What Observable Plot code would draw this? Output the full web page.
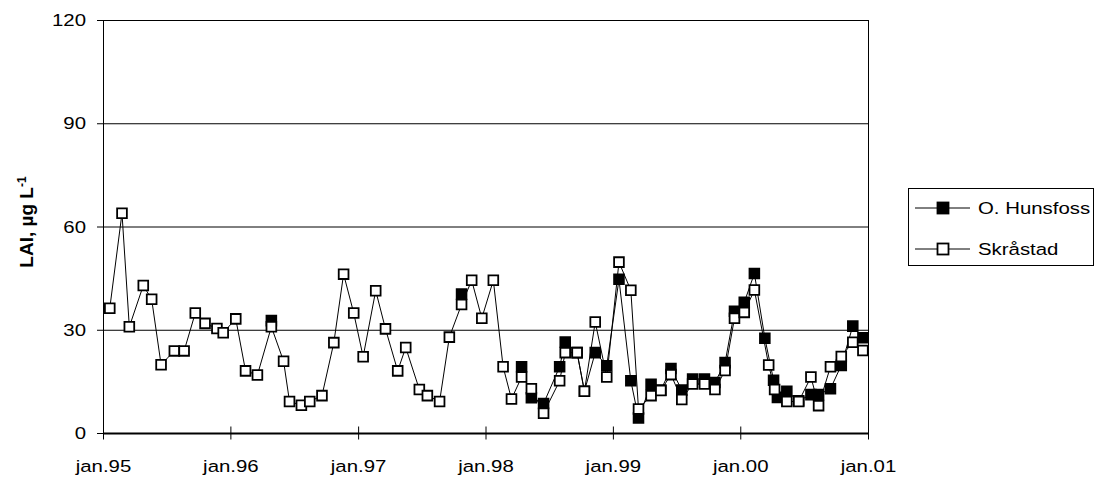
<!DOCTYPE html>
<html>
<head>
<meta charset="utf-8">
<script src="https://cdn.jsdelivr.net/npm/d3@7"></script>
<script src="https://cdn.jsdelivr.net/npm/@observablehq/plot@0.6"></script>
<style>
  html, body { margin: 0; padding: 0; background: #fff; }
  #chart svg { display: block; }
</style>
</head>
<body>
<div id="chart"></div>
<script>
// ---- data ----
const skrastadDates = [
  "1995-01-19","1995-02-23","1995-03-16","1995-04-25","1995-05-19","1995-06-15","1995-07-23","1995-08-20",
  "1995-09-21","1995-10-19","1995-11-22","1995-12-10","1996-01-15","1996-02-12","1996-03-17","1996-04-26",
  "1996-05-31","1996-06-17","1996-07-21","1996-08-14","1996-09-18","1996-10-22","1996-11-19","1996-12-18",
  "1997-01-14","1997-02-19","1997-03-19","1997-04-23","1997-05-16","1997-06-24","1997-07-17","1997-08-21",
  "1997-09-18","1997-10-23","1997-11-21","1997-12-20","1998-01-22","1998-02-19","1998-03-15","1998-04-13",
  "1998-05-11","1998-06-15","1998-07-31","1998-08-16","1998-09-19","1998-10-10","1998-11-10","1998-12-13",
  "1999-01-17","1999-02-20","1999-03-14","1999-04-19","1999-05-17","1999-06-15","1999-07-16","1999-08-16",
  "1999-09-19","1999-10-19","1999-11-17","1999-12-14","2000-01-11","2000-02-09","2000-03-21","2000-04-07",
  "2000-05-12","2000-06-15","2000-07-20","2000-08-11","2000-09-14","2000-10-15","2000-11-17","2000-12-16"
];
const skrastadValues = [
  36.4, 64, 31, 43, 39, 20, 24, 24,
  35, 32, 30.5, 29.3, 33.3, 18.2, 17, 31,
  21, 9.3, 8.2, 9.3, 11, 26.4, 46.3, 35,
  22.3, 41.5, 30.4, 18.2, 25, 12.8, 11, 9.3,
  28, 37.5, 44.5, 33.5, 44.5, 19.4, 10, 16.4,
  13, 5.9, 15.3, 23.5, 23.5, 12.3, 32.4, 16.4,
  49.8, 41.6, 7.1, 11, 12.5, 17.1, 9.9, 14.4,
  14.4, 12.8, 18.3, 33.5, 35.2, 41.7, 19.9, 12.8,
  9.3, 9.3, 16.4, 8.1, 19.4, 22.4, 26.5, 24.1
];
// null = no sample (breaks the line)
const hunsfossDates = [
  "1996-04-26","1996-05-31","1997-10-23","1997-11-21",
  "1998-04-13","1998-05-11","1998-06-15","1998-07-31","1998-08-16","1998-09-19","1998-10-10","1998-11-10",
  "1998-12-13","1999-01-17","1999-02-20","1999-03-14","1999-04-19","1999-05-17","1999-06-15","1999-07-16",
  "1999-08-16","1999-09-19","1999-10-19","1999-11-17","1999-12-14","2000-01-11","2000-02-09","2000-03-10",
  "2000-04-04","2000-04-15","2000-05-12","2000-06-15","2000-07-20","2000-08-11","2000-09-14","2000-10-15",
  "2000-11-17","2000-12-16"
];
const hunsfossValues = [
  32.8, null, 40.5, null,
  19.4, 10.4, 8.7, 19.4, 26.6, 23.5, 12.3, 23.5,
  19.7, 44.8, 15.3, 4.5, 14.3, 12.6, 18.9, 12.6,
  15.8, 15.8, 14.8, 20.6, 35.5, 38.1, 46.5, 27.7,
  15.5, 10.5, 12.3, 9.5, 11.3, 11.3, 13, 19.8,
  31.2, 27.8
];
const seriesNames = ["O. Hunsfoss", "Skråstad"];
const yTicks = [0, 30, 60, 90, 120];
const yTickLabels = ["0", "30", "60", "90", "120"];
const yGrid = [30, 60, 90, 120];
const xTickYears = [1995, 1996, 1997, 1998, 1999, 2000, 2001];
const xTickLabels = ["jan.95", "jan.96", "jan.97", "jan.98", "jan.99", "jan.00", "jan.01"];
const yTitle = "LAI, µg L";
const yTitleSup = "-1";

// ---- build tables ----
const parse = d3.utcParse("%Y-%m-%d");
const skra = skrastadDates.map((d, i) => ({date: parse(d), value: skrastadValues[i]}));
const huns = hunsfossDates.map((d, i) => ({date: parse(d), value: hunsfossValues[i]}));
const xTicks = xTickYears.map(y => new Date(Date.UTC(y, 0, 1)));
const labelOf = d => xTickLabels[xTickYears.indexOf(d.getUTCFullYear())];

const FONT = "'Liberation Sans', Arial, sans-serif";
const W = 1102, H = 478;

const plot = Plot.plot({
  width: W,
  height: H,
  marginLeft: 103,
  marginRight: 234,
  marginTop: 20,
  marginBottom: 45,
  style: {fontFamily: FONT, fontSize: "17px", color: "black", background: "white"},
  x: {type: "utc", domain: [xTicks[0], xTicks[xTicks.length - 1]]},
  y: {domain: [0, 120]},
  marks: [
    Plot.ruleY(yGrid, {stroke: "black", strokeWidth: 1}),
    Plot.frame({stroke: "black", strokeWidth: 1}),
    Plot.ruleY([0], {stroke: "black", strokeWidth: 2}),
    Plot.axisY({ticks: yTicks, tickSize: 6, tickFormat: () => "", label: null, stroke: "black"}),
    Plot.axisX({ticks: xTicks, tickFormat: labelOf, tickSize: 13, tickPadding: 25, label: null, stroke: "black", fontSize: 17}),
    Plot.line(huns, {x: "date", y: "value", stroke: "black", strokeWidth: 1}),
    Plot.dot(huns, {x: "date", y: "value", symbol: "square", r: 5.5, fill: "black", stroke: "black", strokeWidth: 1.8}),
    Plot.line(skra, {x: "date", y: "value", stroke: "black", strokeWidth: 1}),
    Plot.dot(skra, {x: "date", y: "value", symbol: "square", r: 5.5, fill: "white", stroke: "black", strokeWidth: 1.8})
  ]
});

document.getElementById("chart").appendChild(plot);
const svg = d3.select(plot);
const yScale = plot.scale("y");

// cross-style x ticks
svg.selectAll('g[aria-label="x-axis tick"]').each(function() {
  const t = this.getAttribute("transform") || "";
  this.setAttribute("transform", t + " translate(0,-6.5)");
});

// stretch x tick label text horizontally like the original
function stretch(el, sx, anchor) {
  const x = +el.getAttribute("x") || 0, y = +el.getAttribute("y") || 0;
  el.removeAttribute("x"); el.removeAttribute("y");
  const t = el.getAttribute("transform") || "";
  el.setAttribute("transform", `${t} translate(${x},${y}) scale(${sx},1)`);
  el.setAttribute("text-anchor", anchor);
}
svg.selectAll('g[aria-label="x-axis tick label"] text').each(function() { stretch(this, 1.2, "middle"); });

// y tick labels, placed with Plot's y scale
const yl = svg.append("g").attr("font-family", FONT).attr("font-size", 17).attr("fill", "black");
yTicks.forEach((v, i) => {
  yl.append("text")
    .attr("text-anchor", "end")
    .attr("dy", "0.36em")
    .attr("transform", `translate(86,${yScale.apply(v)}) scale(1.2,1)`)
    .text(yTickLabels[i]);
});

// y-axis title
const yt = svg.append("text")
  .attr("transform", "translate(33,222) rotate(-90)")
  .attr("text-anchor", "middle")
  .attr("font-family", FONT)
  .attr("font-weight", "bold")
  .attr("font-size", 19)
  .attr("fill", "black");
yt.append("tspan").text(yTitle);
yt.append("tspan").attr("dy", -7).attr("font-size", 12).text(yTitleSup);

// legend
const lg = svg.append("g").attr("text-anchor", "start");
lg.append("rect").attr("x", 908.5).attr("y", 188.5).attr("width", 185).attr("height", 77)
  .attr("fill", "white").attr("stroke", "black").attr("stroke-width", 1);
const rows = [208, 249];
const fills = ["black", "white"];
seriesNames.forEach((name, i) => {
  const cy = rows[i];
  lg.append("line").attr("x1", 915).attr("x2", 970).attr("y1", cy).attr("y2", cy)
    .attr("stroke", "black").attr("stroke-width", 1);
  lg.append("rect").attr("x", 943 - 5.5).attr("y", cy - 5.5).attr("width", 11).attr("height", 11)
    .attr("fill", fills[i]).attr("stroke", "black").attr("stroke-width", 1.8);
  lg.append("text").attr("font-family", FONT).attr("font-size", 17).attr("fill", "black")
    .attr("text-anchor", "start")
    .attr("transform", `translate(978,${cy + 6}) scale(1.2,1)`).text(name);
});
</script>
</body>
</html>
